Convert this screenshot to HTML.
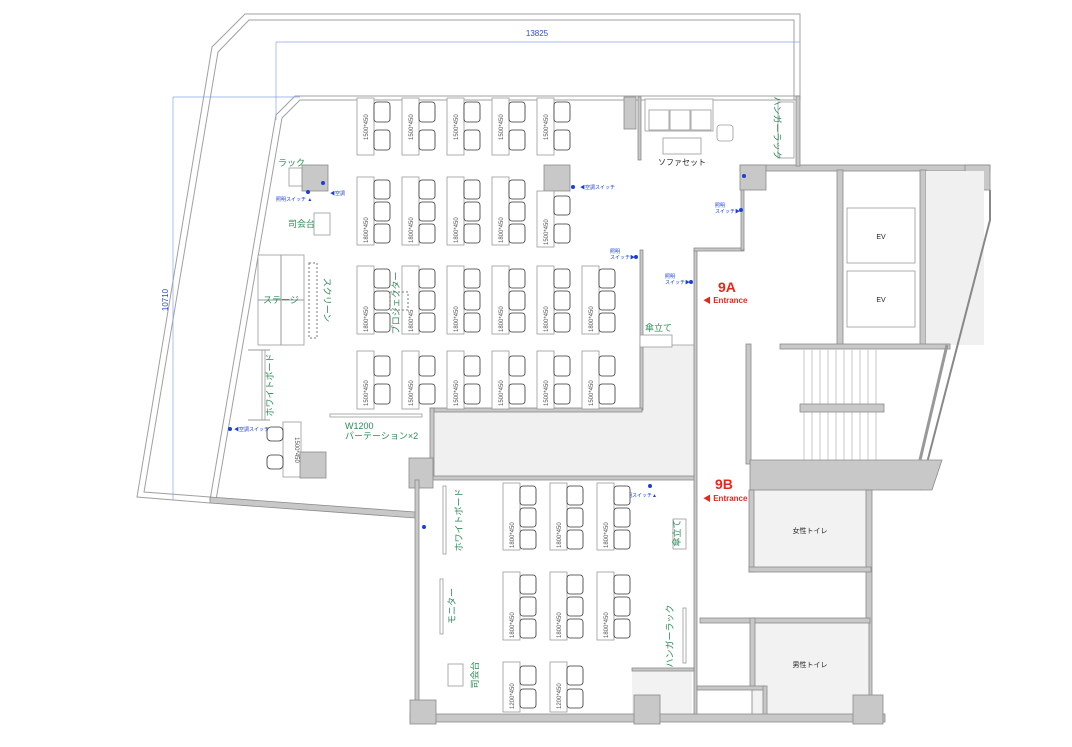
<!DOCTYPE html>
<html><head><meta charset="utf-8"><style>
html,body{margin:0;padding:0;background:#fff;width:1072px;height:747px;overflow:hidden}
svg{display:block}
text{font-family:"Liberation Sans","Noto Sans CJK JP",sans-serif}
.w{fill:#c8c8c8;stroke:#8a8a8a;stroke-width:0.8}
.l{fill:none;stroke:#a0a0a0;stroke-width:1}
.d{fill:#fff;stroke:#9a9a9a;stroke-width:0.8}
.c{fill:#fff;stroke:#333;stroke-width:0.8}
.g{fill:#2e8b57;font-size:9px}
.s{fill:#555;font-size:6px}
.b{fill:#1a3fd8;font-size:5px}
.e{fill:#e8271c;font-weight:bold}
</style></head><body>
<svg width="1072" height="747" viewBox="0 0 1072 747" xmlns="http://www.w3.org/2000/svg">
<polyline class="l" points="800,100 800,14 245,14 212,47 137,497 210,503"/>
<polyline class="l" points="794,100 794,20 249,20 218,52 144,492 210,497"/>
<polyline class="l" points="800,96 295,96 276,115 210,500"/>
<polyline class="l" points="800,100 300,100 282,118 216,500"/>
<line x1="276" y1="42" x2="800" y2="42" stroke="#8aa0ee" stroke-width="0.7"/>
<line x1="276" y1="42" x2="276" y2="120" stroke="#8aa0ee" stroke-width="0.7"/>
<text x="537" y="36" fill="#2a4cd0" font-size="8" text-anchor="middle">13825</text>
<line x1="173" y1="97" x2="173" y2="500" stroke="#8aa0ee" stroke-width="0.7"/>
<line x1="173" y1="97" x2="300" y2="97" stroke="#8aa0ee" stroke-width="0.7"/>
<text transform="translate(168,300) rotate(-90)" fill="#2a4cd0" font-size="8" text-anchor="middle">10710</text>
<polygon class="w" points="210,497 415,512 415,518 210,503"/>
<polygon fill="#f0f0f0" stroke="#999" stroke-width="0.8" points="640,345 695,345 695,478 432,478 432,410 640,410"/>
<rect class="w" x="640" y="250" width="3" height="160"/>
<rect class="w" x="430" y="408" width="212" height="4"/>
<rect class="w" x="430" y="408" width="4" height="70"/>
<rect class="w" x="430" y="476" width="265" height="4"/>
<rect class="w" x="409" y="458" width="24" height="30"/>
<rect class="w" x="415" y="480" width="4" height="235"/>
<rect class="w" x="694" y="250" width="3" height="470"/>
<rect class="w" x="694" y="248" width="50" height="3"/>
<rect class="w" x="741" y="168" width="3" height="82"/>
<rect class="w" x="740" y="165" width="250" height="6"/>
<rect class="w" x="740" y="165" width="26" height="25"/>
<rect class="w" x="965" y="165" width="25" height="25"/>
<rect class="w" x="796" y="96" width="4" height="70"/>
<rect class="w" x="624" y="97" width="12" height="32"/>
<rect class="w" x="638" y="97" width="3" height="63"/>
<rect class="w" x="837" y="170" width="6" height="175"/>
<rect class="w" x="920" y="170" width="6" height="175"/>
<rect fill="#f0f0f0" x="926" y="171" width="58" height="174"/>
<rect class="d" x="847" y="208" width="68" height="55"/>
<rect class="d" x="847" y="271" width="68" height="56"/>
<text x="881" y="239" font-size="7" fill="#222" text-anchor="middle">EV</text>
<text x="881" y="302" font-size="7" fill="#222" text-anchor="middle">EV</text>
<polyline class="l" points="990,190 990,220 920,490" style="stroke:#888;stroke-width:2"/>
<rect class="w" x="780" y="344" width="170" height="5"/>
<rect class="w" x="746" y="344" width="5" height="120"/>
<g stroke="#bbb" stroke-width="0.8">
<line x1="804" y1="350" x2="804" y2="460"/><line x1="812" y1="350" x2="812" y2="460"/><line x1="820" y1="350" x2="820" y2="460"/><line x1="828" y1="350" x2="828" y2="460"/><line x1="836" y1="350" x2="836" y2="460"/><line x1="844" y1="350" x2="844" y2="460"/><line x1="852" y1="350" x2="852" y2="460"/><line x1="860" y1="350" x2="860" y2="460"/><line x1="868" y1="350" x2="868" y2="460"/><line x1="876" y1="350" x2="876" y2="460"/>
</g>
<rect class="w" x="800" y="404" width="84" height="8"/>
<polygon class="w" points="750,460 942,460 932,490 750,490"/>
<line x1="947" y1="345" x2="920" y2="460" stroke="#999" stroke-width="3"/>
<rect fill="#f2f2f2" stroke="#999" x="750" y="490" width="120" height="80"/>
<rect class="w" x="749" y="490" width="5" height="82"/>
<rect class="w" x="866" y="490" width="6" height="230"/>
<rect class="w" x="749" y="567" width="122" height="5"/>
<text x="810" y="533" font-size="7" fill="#222" text-anchor="middle">女性トイレ</text>
<rect fill="#f2f2f2" stroke="#999" x="752" y="622" width="117" height="96"/>
<rect class="w" x="700" y="618" width="170" height="5"/>
<rect class="w" x="750" y="618" width="5" height="70"/>
<rect class="w" x="697" y="686" width="68" height="4"/>
<rect class="w" x="763" y="686" width="4" height="34"/>
<text x="810" y="667" font-size="7" fill="#222" text-anchor="middle">男性トイレ</text>
<rect fill="#f2f2f2" x="632" y="668" width="60" height="48"/>
<rect class="w" x="632" y="668" width="62" height="3"/>
<rect class="w" x="410" y="714" width="475" height="8"/>
<rect class="w" x="410" y="700" width="26" height="24"/>
<rect class="w" x="634" y="695" width="26" height="29"/>
<rect class="w" x="853" y="695" width="30" height="29"/>
<text x="718" y="292" font-size="14" class="e">9A</text>
<text x="703" y="303" font-size="8" class="e">◀ Entrance</text>
<text x="715" y="489" font-size="14" class="e">9B</text>
<text x="703" y="501" font-size="8" class="e">◀ Entrance</text>
<rect class="d" x="645" y="99" width="68" height="32"/>
<rect class="d" x="649" y="110" width="20" height="20"/><rect class="d" x="670" y="110" width="20" height="20"/><rect class="d" x="691" y="110" width="20" height="20"/>
<rect class="d" x="663" y="138" width="38" height="16"/>
<rect class="d" x="717" y="125" width="16" height="16" rx="3"/>
<text x="682" y="165" font-size="8" fill="#222" text-anchor="middle">ソファセット</text>
<rect class="d" x="778" y="102" width="16" height="56"/>
<text transform="translate(774,128) rotate(90)" class="g" text-anchor="middle">ハンガーラック</text>
<rect class="d" x="289" y="168" width="14" height="18"/>
<rect class="w" x="302" y="165" width="26" height="26"/>
<text x="278" y="166" class="g">ラック</text>
<text x="288" y="227" class="g">司会台</text>
<rect class="d" x="314" y="213" width="16" height="22"/>
<rect class="d" x="258" y="255" width="46" height="90"/>
<line x1="281" y1="255" x2="281" y2="345" stroke="#999"/>
<line x1="258" y1="300" x2="304" y2="300" stroke="#999"/>
<text x="281" y="303" class="g" text-anchor="middle">ステージ</text>
<rect x="309" y="263" width="8" height="75" fill="none" stroke="#777" stroke-dasharray="2,2"/>
<text transform="translate(324,300) rotate(90)" class="g" text-anchor="middle">スクリーン</text>
<rect class="d" x="262" y="350" width="3" height="70"/>
<line x1="248" y1="350" x2="270" y2="350" stroke="#999"/>
<line x1="248" y1="420" x2="270" y2="420" stroke="#999"/>
<text transform="translate(273,385) rotate(-90)" class="g" text-anchor="middle">ホワイトボード</text>
<rect class="d" x="283" y="422" width="18" height="55"/>
<text transform="translate(295,450) rotate(90)" class="s" text-anchor="middle">1500*450</text>
<rect class="c" x="267" y="427" width="16" height="14" rx="4"/>
<rect class="c" x="267" y="455" width="16" height="14" rx="4"/>
<rect class="w" x="300" y="452" width="26" height="26"/>
<rect class="d" x="330" y="414" width="92" height="3"/>
<text x="345" y="429" class="g">W1200</text>
<text x="345" y="439" class="g">パーテーション×2</text>
<rect class="w" x="544" y="165" width="26" height="26"/>
<rect class="d" x="640" y="335" width="32" height="12"/>
<text x="645" y="331" class="g">傘立て</text>
<rect class="d" x="443" y="486" width="3" height="68"/>
<text transform="translate(462,520) rotate(-90)" class="g" text-anchor="middle">ホワイトボード</text>
<rect class="d" x="440" y="579" width="3" height="55"/>
<text transform="translate(455,606) rotate(-90)" class="g" text-anchor="middle">モニター</text>
<rect class="d" x="448" y="664" width="15" height="22"/>
<text transform="translate(478,675) rotate(-90)" class="g" text-anchor="middle">司会台</text>
<rect class="d" x="673" y="519" width="13" height="30"/>
<text transform="translate(680,533) rotate(-90)" class="g" text-anchor="middle">傘立て</text>
<rect class="d" x="683" y="608" width="3" height="55"/>
<text transform="translate(673,636) rotate(-90)" class="g" text-anchor="middle">ハンガーラック</text>
<g fill="#1a3fd8"><circle cx="323" cy="183" r="2"/><circle cx="308" cy="192" r="2"/><circle cx="573" cy="187" r="2"/><circle cx="636" cy="257" r="2"/><circle cx="691" cy="282" r="2"/><circle cx="741" cy="210" r="2"/><circle cx="230" cy="429" r="2"/><circle cx="424" cy="527" r="2"/><circle cx="650" cy="486" r="2"/><circle cx="744" cy="176" r="2"/></g>
<text x="580" y="189" class="b">◀空調スイッチ</text>
<text x="276" y="201" class="b">照明スイッチ ▲</text>
<text x="330" y="195" class="b">◀空調</text>
<text x="610" y="253" class="b">照明</text><text x="610" y="259" class="b">スイッチ▶</text>
<text x="665" y="278" class="b">照明</text><text x="665" y="284" class="b">スイッチ▶</text>
<text x="715" y="207" class="b">照明</text><text x="715" y="213" class="b">スイッチ▶</text>
<text x="234" y="431" class="b">◀空調スイッチ</text>
<text x="622" y="497" class="b">照明スイッチ▲</text>
<g>
<rect class="d" x="357" y="98" width="17" height="57"/><rect class="d" x="402" y="98" width="17" height="57"/><rect class="d" x="447" y="98" width="17" height="57"/><rect class="d" x="492" y="98" width="17" height="57"/><rect class="d" x="537" y="98" width="17" height="57"/>
<rect class="d" x="357" y="177" width="17" height="68"/><rect class="d" x="402" y="177" width="17" height="68"/><rect class="d" x="447" y="177" width="17" height="68"/><rect class="d" x="492" y="177" width="17" height="68"/><rect class="d" x="537" y="191" width="17" height="56"/>
<rect class="d" x="357" y="266" width="17" height="68"/><rect class="d" x="402" y="266" width="17" height="68"/><rect class="d" x="447" y="266" width="17" height="68"/><rect class="d" x="492" y="266" width="17" height="68"/><rect class="d" x="537" y="266" width="17" height="68"/><rect class="d" x="582" y="266" width="17" height="68"/>
<rect class="d" x="357" y="351" width="17" height="58"/><rect class="d" x="402" y="351" width="17" height="58"/><rect class="d" x="447" y="351" width="17" height="58"/><rect class="d" x="492" y="351" width="17" height="58"/><rect class="d" x="537" y="351" width="17" height="58"/><rect class="d" x="582" y="351" width="17" height="58"/>
<rect class="d" x="503" y="483" width="17" height="67"/><rect class="d" x="550" y="483" width="17" height="67"/><rect class="d" x="597" y="483" width="17" height="67"/>
<rect class="d" x="503" y="572" width="17" height="68"/><rect class="d" x="550" y="572" width="17" height="68"/><rect class="d" x="597" y="572" width="17" height="68"/>
<rect class="d" x="503" y="662" width="17" height="50"/><rect class="d" x="550" y="662" width="17" height="50"/>
</g>
<g>
<rect class="c" x="374" y="102" width="16" height="20" rx="3"/><rect class="c" x="374" y="130" width="16" height="20" rx="3"/>
<rect class="c" x="419" y="102" width="16" height="20" rx="3"/><rect class="c" x="419" y="130" width="16" height="20" rx="3"/>
<rect class="c" x="464" y="102" width="16" height="20" rx="3"/><rect class="c" x="464" y="130" width="16" height="20" rx="3"/>
<rect class="c" x="509" y="102" width="16" height="20" rx="3"/><rect class="c" x="509" y="130" width="16" height="20" rx="3"/>
<rect class="c" x="554" y="102" width="16" height="20" rx="3"/><rect class="c" x="554" y="130" width="16" height="20" rx="3"/>
<rect class="c" x="374" y="180" width="16" height="19" rx="3"/><rect class="c" x="374" y="202" width="16" height="19" rx="3"/><rect class="c" x="374" y="224" width="16" height="19" rx="3"/>
<rect class="c" x="419" y="180" width="16" height="19" rx="3"/><rect class="c" x="419" y="202" width="16" height="19" rx="3"/><rect class="c" x="419" y="224" width="16" height="19" rx="3"/>
<rect class="c" x="464" y="180" width="16" height="19" rx="3"/><rect class="c" x="464" y="202" width="16" height="19" rx="3"/><rect class="c" x="464" y="224" width="16" height="19" rx="3"/>
<rect class="c" x="509" y="180" width="16" height="19" rx="3"/><rect class="c" x="509" y="202" width="16" height="19" rx="3"/><rect class="c" x="509" y="224" width="16" height="19" rx="3"/>
<rect class="c" x="554" y="196" width="16" height="19" rx="3"/><rect class="c" x="554" y="224" width="16" height="19" rx="3"/>
<rect class="c" x="374" y="269" width="16" height="19" rx="3"/><rect class="c" x="374" y="291" width="16" height="19" rx="3"/><rect class="c" x="374" y="313" width="16" height="19" rx="3"/>
<rect class="c" x="419" y="269" width="16" height="19" rx="3"/><rect class="c" x="419" y="291" width="16" height="19" rx="3"/><rect class="c" x="419" y="313" width="16" height="19" rx="3"/>
<rect class="c" x="464" y="269" width="16" height="19" rx="3"/><rect class="c" x="464" y="291" width="16" height="19" rx="3"/><rect class="c" x="464" y="313" width="16" height="19" rx="3"/>
<rect class="c" x="509" y="269" width="16" height="19" rx="3"/><rect class="c" x="509" y="291" width="16" height="19" rx="3"/><rect class="c" x="509" y="313" width="16" height="19" rx="3"/>
<rect class="c" x="554" y="269" width="16" height="19" rx="3"/><rect class="c" x="554" y="291" width="16" height="19" rx="3"/><rect class="c" x="554" y="313" width="16" height="19" rx="3"/>
<rect class="c" x="599" y="269" width="16" height="19" rx="3"/><rect class="c" x="599" y="291" width="16" height="19" rx="3"/><rect class="c" x="599" y="313" width="16" height="19" rx="3"/>
<rect class="c" x="374" y="356" width="16" height="20" rx="3"/><rect class="c" x="374" y="384" width="16" height="20" rx="3"/>
<rect class="c" x="419" y="356" width="16" height="20" rx="3"/><rect class="c" x="419" y="384" width="16" height="20" rx="3"/>
<rect class="c" x="464" y="356" width="16" height="20" rx="3"/><rect class="c" x="464" y="384" width="16" height="20" rx="3"/>
<rect class="c" x="509" y="356" width="16" height="20" rx="3"/><rect class="c" x="509" y="384" width="16" height="20" rx="3"/>
<rect class="c" x="554" y="356" width="16" height="20" rx="3"/><rect class="c" x="554" y="384" width="16" height="20" rx="3"/>
<rect class="c" x="599" y="356" width="16" height="20" rx="3"/><rect class="c" x="599" y="384" width="16" height="20" rx="3"/>
<rect class="c" x="520" y="486" width="16" height="19" rx="3"/><rect class="c" x="520" y="508" width="16" height="19" rx="3"/><rect class="c" x="520" y="530" width="16" height="19" rx="3"/>
<rect class="c" x="567" y="486" width="16" height="19" rx="3"/><rect class="c" x="567" y="508" width="16" height="19" rx="3"/><rect class="c" x="567" y="530" width="16" height="19" rx="3"/>
<rect class="c" x="614" y="486" width="16" height="19" rx="3"/><rect class="c" x="614" y="508" width="16" height="19" rx="3"/><rect class="c" x="614" y="530" width="16" height="19" rx="3"/>
<rect class="c" x="520" y="575" width="16" height="19" rx="3"/><rect class="c" x="520" y="597" width="16" height="19" rx="3"/><rect class="c" x="520" y="619" width="16" height="19" rx="3"/>
<rect class="c" x="567" y="575" width="16" height="19" rx="3"/><rect class="c" x="567" y="597" width="16" height="19" rx="3"/><rect class="c" x="567" y="619" width="16" height="19" rx="3"/>
<rect class="c" x="614" y="575" width="16" height="19" rx="3"/><rect class="c" x="614" y="597" width="16" height="19" rx="3"/><rect class="c" x="614" y="619" width="16" height="19" rx="3"/>
<rect class="c" x="520" y="666" width="16" height="19" rx="3"/><rect class="c" x="520" y="689" width="16" height="19" rx="3"/>
<rect class="c" x="567" y="666" width="16" height="19" rx="3"/><rect class="c" x="567" y="689" width="16" height="19" rx="3"/>
</g>
<g>
<text transform="translate(368,140) rotate(-90)" class="s">1500*450</text><text transform="translate(413,140) rotate(-90)" class="s">1500*450</text><text transform="translate(458,140) rotate(-90)" class="s">1500*450</text><text transform="translate(503,140) rotate(-90)" class="s">1500*450</text><text transform="translate(548,140) rotate(-90)" class="s">1500*450</text>
<text transform="translate(368,243) rotate(-90)" class="s">1800*450</text><text transform="translate(413,243) rotate(-90)" class="s">1800*450</text><text transform="translate(458,243) rotate(-90)" class="s">1800*450</text><text transform="translate(503,243) rotate(-90)" class="s">1800*450</text><text transform="translate(548,245) rotate(-90)" class="s">1500*450</text>
<text transform="translate(368,332) rotate(-90)" class="s">1800*450</text><text transform="translate(413,332) rotate(-90)" class="s">1800*45</text><text transform="translate(458,332) rotate(-90)" class="s">1800*450</text><text transform="translate(503,332) rotate(-90)" class="s">1800*450</text><text transform="translate(548,332) rotate(-90)" class="s">1800*450</text><text transform="translate(593,332) rotate(-90)" class="s">1800*450</text>
<text transform="translate(368,406) rotate(-90)" class="s">1500*450</text><text transform="translate(413,406) rotate(-90)" class="s">1500*450</text><text transform="translate(458,406) rotate(-90)" class="s">1500*450</text><text transform="translate(503,406) rotate(-90)" class="s">1500*450</text><text transform="translate(548,406) rotate(-90)" class="s">1500*450</text><text transform="translate(593,406) rotate(-90)" class="s">1500*450</text>
<text transform="translate(514,548) rotate(-90)" class="s">1800*450</text><text transform="translate(561,548) rotate(-90)" class="s">1800*450</text><text transform="translate(608,548) rotate(-90)" class="s">1800*450</text>
<text transform="translate(514,638) rotate(-90)" class="s">1800*450</text><text transform="translate(561,638) rotate(-90)" class="s">1800*450</text><text transform="translate(608,638) rotate(-90)" class="s">1800*450</text>
<text transform="translate(514,709) rotate(-90)" class="s">1200*450</text><text transform="translate(561,709) rotate(-90)" class="s">1200*450</text>
</g>
<rect x="390" y="292" width="18" height="18" fill="none" stroke="#777" stroke-dasharray="2,2"/>
<text transform="translate(399,303) rotate(-90)" class="g" text-anchor="middle">プロジェクター</text>
</svg>
</body></html>
